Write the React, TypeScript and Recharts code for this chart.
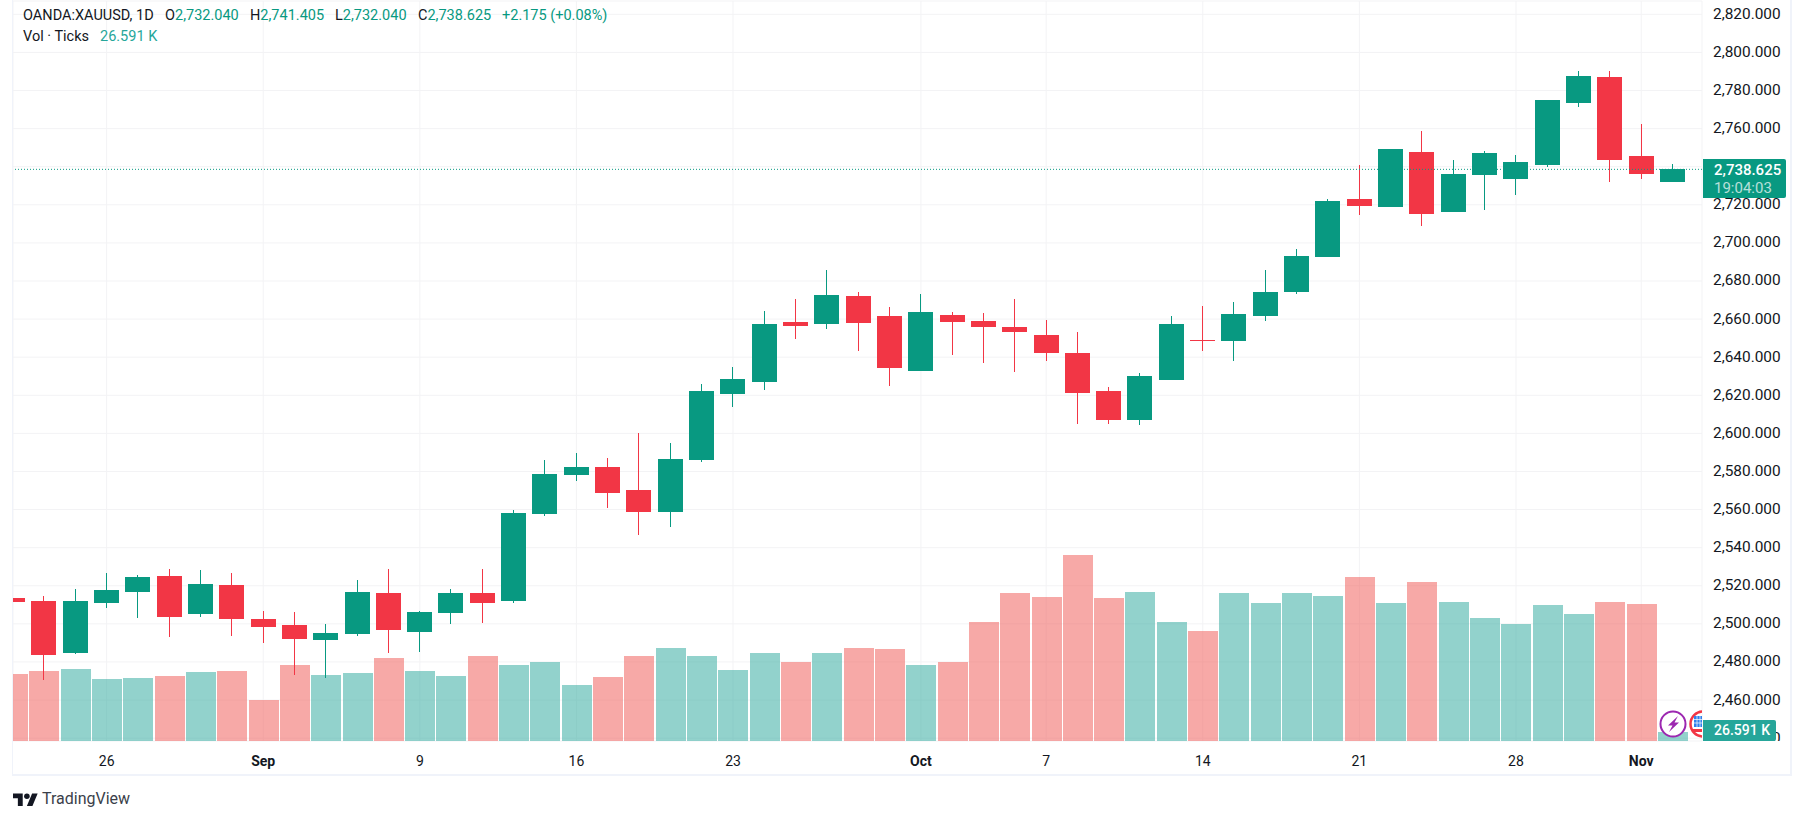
import { Bar, CartesianGrid, Cell, ComposedChart, ReferenceLine, XAxis, YAxis } from 'recharts';

const UP = '#089981';
const DOWN = '#F23645';
const VOL_UP = '#26a69a';
const VOL_DOWN = '#ef5350';
const GRID = '#F3F3F5';
const TEXT = '#131722';
const FONT = 'Roboto, sans-serif';

// one entry per trading day, 21 Aug to 4 Nov
const opens = [
  2513.6, 2512.0, 2484.7, 2511.0, 2516.7, 2525.1, 2505.2, 2520.4, 2502.6, 2499.4,
  2491.5, 2494.7, 2516.2, 2495.7, 2505.7, 2516.2, 2512.0, 2557.7, 2578.2, 2582.4,
  2570.3, 2558.7, 2586.0, 2620.7, 2627.0, 2658.5, 2657.4, 2672.1, 2661.6, 2632.8,
  2662.2, 2659.0, 2655.9, 2651.7, 2642.2, 2622.3, 2607.0, 2628.0, 2649.2, 2648.5,
  2661.6, 2674.2, 2692.6, 2723.0, 2718.9, 2747.7, 2716.2, 2735.6, 2733.5, 2740.9,
  2773.4, 2787.1, 2745.6, 2732.04,
];
const highs = [
  2513.6, 2514.6, 2518.3, 2526.7, 2525.7, 2528.8, 2528.3, 2526.7, 2506.8, 2506.2,
  2499.9, 2523.0, 2528.8, 2506.8, 2518.3, 2528.8, 2559.8, 2586.0, 2589.7, 2587.1,
  2600.2, 2595.0, 2625.9, 2634.9, 2664.3, 2670.6, 2685.8, 2674.2, 2666.4, 2673.2,
  2663.7, 2663.2, 2670.6, 2659.5, 2653.2, 2624.4, 2631.7, 2661.6, 2666.9, 2669.0,
  2685.8, 2696.8, 2723.0, 2740.9, 2749.3, 2758.7, 2743.5, 2748.2, 2746.1, 2775.0,
  2790.2, 2790.2, 2762.4, 2741.405,
];
const lows = [
  2511.5, 2470.6, 2484.2, 2508.3, 2503.1, 2493.1, 2503.6, 2493.6, 2490.0, 2473.2,
  2471.6, 2493.6, 2484.7, 2485.2, 2499.9, 2500.5, 2511.0, 2556.6, 2575.0, 2560.8,
  2546.7, 2550.9, 2585.0, 2613.9, 2622.8, 2649.6, 2654.8, 2643.3, 2624.9, 2632.8,
  2641.2, 2637.0, 2632.2, 2638.0, 2604.9, 2604.9, 2604.4, 2628.0, 2643.3, 2638.0,
  2659.0, 2673.2, 2692.6, 2714.6, 2718.9, 2708.9, 2716.2, 2717.3, 2725.1, 2739.8,
  2771.3, 2732.0, 2733.5, 2732.04,
];
const closes = [
  2511.5, 2483.7, 2512.0, 2517.8, 2524.6, 2503.6, 2520.9, 2502.6, 2498.4, 2492.1,
  2495.2, 2516.7, 2496.8, 2506.2, 2516.2, 2511.0, 2558.2, 2578.7, 2582.4, 2568.7,
  2558.7, 2586.6, 2622.3, 2628.6, 2657.4, 2656.4, 2672.7, 2658.0, 2634.3, 2663.7,
  2658.5, 2655.9, 2653.2, 2642.2, 2621.2, 2607.0, 2630.1, 2657.4, 2648.7, 2662.7,
  2674.2, 2693.1, 2722.0, 2719.4, 2749.3, 2715.2, 2736.2, 2747.2, 2742.5, 2775.0,
  2787.6, 2743.5, 2736.2, 2738.625,
];
// ticks volume, thousands
const volumes = [
  193.6, 202.3, 208.1, 179.2, 182.1, 187.9, 199.4, 202.3, 118.5, 219.6,
  190.7, 196.5, 239.9, 202.3, 187.9, 245.7, 219.6, 228.3, 161.8, 185.0,
  245.7, 268.8, 245.7, 205.2, 254.3, 228.3, 254.3, 268.8, 265.9, 219.6,
  228.3, 343.9, 427.7, 416.2, 537.5, 413.3, 430.6, 343.9, 317.9, 427.7,
  398.8, 427.7, 419.1, 474.0, 398.8, 459.5, 401.7, 355.5, 338.1, 393.0,
  367.0, 401.7, 395.9, 26.591,
];

const priceTicks = [
  2440, 2460, 2480, 2500, 2520, 2540, 2560, 2580, 2600, 2620, 2640,
  2660, 2680, 2700, 2720, 2740, 2760, 2780, 2800, 2820,
];
const dayTicks = [3, 8, 13, 18, 23, 29, 33, 38, 43, 48, 52];
const dayLabels = ['26', 'Sep', '9', '16', '23', 'Oct', '7', '14', '21', '28', 'Nov'];
const months = ['Sep', 'Oct', 'Nov'];

const lastPrice = 2738.625;

const data = opens.map((open, i) => ({
  day: i,
  wick: [lows[i], highs[i]],
  body: [Math.min(open, closes[i]), Math.max(open, closes[i])],
  volume: volumes[i],
  up: closes[i] >= open,
}));

const xDomain: [number, number] = [0.01, 53.94];

function DayTick({ x, y, payload }: any) {
  const label = dayLabels[dayTicks.indexOf(payload.value)];
  return (
    <text x={x} y={y} dy={-13} textAnchor="middle" fontFamily={FONT} fontSize={14}
      fontWeight={months.includes(label) ? 700 : 400} fill={TEXT}>
      {label}
    </text>
  );
}

// the 2,740 label sits under the last price tag, so only its grid line shows
function priceLabel(v: number) {
  if (v === 2740) return '';
  return v.toLocaleString('en-US', { minimumFractionDigits: 3 });
}

function Legend() {
  const row: React.CSSProperties = { position: 'absolute', whiteSpace: 'pre', fontFamily: FONT, fontSize: 14.5, lineHeight: '18px' };
  return (
    <>
      <span style={{ ...row, left: 23, top: 7, color: TEXT }}>OANDA:XAUUSD, 1D</span>
      <span style={{ ...row, left: 165, top: 7, color: TEXT }}>O<span style={{ color: UP }}>2,732.040</span></span>
      <span style={{ ...row, left: 250, top: 7, color: TEXT }}>H<span style={{ color: UP }}>2,741.405</span></span>
      <span style={{ ...row, left: 335, top: 7, color: TEXT }}>L<span style={{ color: UP }}>2,732.040</span></span>
      <span style={{ ...row, left: 418, top: 7, color: TEXT }}>C<span style={{ color: UP }}>2,738.625</span></span>
      <span style={{ ...row, left: 502, top: 7, color: UP }}>+2.175 (+0.08%)</span>
      <span style={{ ...row, left: 23, top: 28, color: TEXT }}>Vol · Ticks</span>
      <span style={{ ...row, left: 100, top: 28, color: VOL_UP }}>26.591 K</span>
    </>
  );
}

export default function App() {
  return (
    <div style={{ position: 'absolute', left: 0, top: 0, width: 1805, height: 820, background: '#fff', overflow: 'hidden' }}>
      <ComposedChart
        width={1805}
        height={820}
        data={data}
        margin={{ top: 1, right: 0, bottom: 49, left: 13 }}
        style={{ position: 'absolute', left: 0, top: 0 }}
      >
        <CartesianGrid stroke={GRID} yAxisId="price" xAxisId="days" />
        <XAxis xAxisId="days" type="number" dataKey="day" domain={xDomain} allowDataOverflow
          ticks={dayTicks} interval={0} height={30} axisLine={false} tickLine={false} tick={<DayTick />} />
        <XAxis xAxisId="wicks" type="number" dataKey="day" domain={xDomain} allowDataOverflow hide />
        <XAxis xAxisId="bodies" type="number" dataKey="day" domain={xDomain} allowDataOverflow hide />
        <XAxis xAxisId="vols" type="number" dataKey="day" domain={xDomain} allowDataOverflow hide />
        <YAxis yAxisId="price" orientation="right" width={103} domain={[2438.5, 2827]} allowDataOverflow
          ticks={priceTicks} interval={0} axisLine={false} tickLine={false} tickMargin={5}
          tick={{ fontFamily: FONT, fontSize: 15.4, fill: TEXT, dy: -1 }}
          tickFormatter={priceLabel} />
        <YAxis yAxisId="vol" hide domain={[0, 2138.6]} />
        <Bar xAxisId="vols" yAxisId="vol" dataKey="volume" barSize={30} isAnimationActive={false} shapeRendering="crispEdges">
          {data.map((d) => (
            <Cell key={d.day} fill={d.up ? VOL_UP : VOL_DOWN} fillOpacity={0.5} />
          ))}
        </Bar>
        <ReferenceLine xAxisId="days" yAxisId="price" y={lastPrice} stroke={UP} strokeDasharray="1 2" />
        <Bar xAxisId="wicks" yAxisId="price" dataKey="wick" barSize={1} isAnimationActive={false} shapeRendering="crispEdges">
          {data.map((d) => (
            <Cell key={d.day} fill={d.up ? UP : DOWN} />
          ))}
        </Bar>
        <Bar xAxisId="bodies" yAxisId="price" dataKey="body" barSize={25} isAnimationActive={false} shapeRendering="crispEdges">
          {data.map((d) => (
            <Cell key={d.day} fill={d.up ? UP : DOWN} />
          ))}
        </Bar>
      </ComposedChart>

      <Legend />

      {/* the price axis stops at the end of the pane */}
      <div style={{ position: 'absolute', left: 1703, top: 741, width: 87, height: 33, background: '#fff' }} />

      {/* chart frame */}
      <div style={{ position: 'absolute', left: 12, top: -2, width: 1780, height: 778, boxSizing: 'border-box', borderLeft: '1.5px solid #F0F3FA', borderRight: '2px solid #F0F3FA', borderBottom: '2px solid #F0F3FA' }} />

      {/* event markers on the last bars */}
      <svg width={44} height={30} style={{ position: 'absolute', left: 1658, top: 709 }}>
        <circle cx={45} cy={15} r={12.5} fill="#fff" stroke="#F23645" strokeWidth={2.5} />
        <rect x={36} y={7} width={8} height={11} fill="#2F80ED" />
        <path d="M36 10.5H44M36 14H44M39 7V18M42 7V18" stroke="#fff" strokeWidth={0.7} />
        <rect x={35} y={20} width={9} height={3} fill="#F23645" />
        <circle cx={15} cy={15} r={12.5} fill="#fff" stroke="#9C27B0" strokeWidth={2} />
        <path d="M20 7 L10 16.5 L14.5 16.5 L11 23 L21 13.5 L16.5 13.5 Z" fill="#9C27B0" />
      </svg>

      {/* last price tag */}
      <div style={{ position: 'absolute', left: 1703, top: 159, width: 83, height: 39, background: UP, borderRadius: '0 2px 2px 0', color: '#fff', fontFamily: FONT, fontSize: 15, fontWeight: 500, lineHeight: '18px', padding: '2px 0 0 11px', boxSizing: 'border-box' }}>
        <div>2,738.625</div>
        <div style={{ opacity: 0.7, fontWeight: 400 }}>19:04:03</div>
      </div>
      {/* volume tag */}
      <div style={{ position: 'absolute', left: 1703, top: 720, width: 73, height: 21, background: VOL_UP, borderRadius: '0 2px 2px 0', color: '#fff', fontFamily: FONT, fontSize: 14, fontWeight: 500, lineHeight: '21px', paddingLeft: 11, boxSizing: 'border-box' }}>
        26.591 K
      </div>

      {/* attribution */}
      <svg width={25} height={14} viewBox="0 0 36 20" style={{ position: 'absolute', left: 13, top: 792 }}>
        <path d="M14 20H7V9H0V2h14v18zM28 20h-8l7.5-18h8L28 20z" fill={TEXT} />
        <circle cx={20} cy={6} r={4} fill={TEXT} />
      </svg>
      <span style={{ position: 'absolute', left: 42, top: 789, fontFamily: FONT, fontSize: 16, lineHeight: '20px', color: '#3b3f4a' }}>TradingView</span>
    </div>
  );
}
